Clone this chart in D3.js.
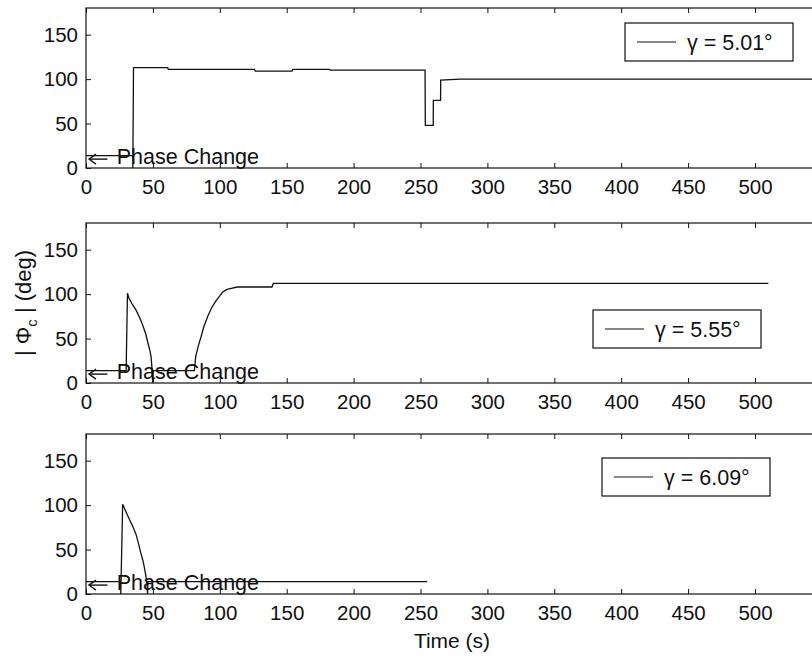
<!DOCTYPE html>
<html><head><meta charset="utf-8">
<script src="https://cdn.jsdelivr.net/npm/d3@7"></script>
<style>
html,body{margin:0;padding:0;background:#fff;overflow:hidden;}
text{font-family:"Liberation Sans",Arial,sans-serif;fill:#111;}
</style></head>
<body>
<svg id="c" width="812" height="658"></svg>
<script>
// ---- data (time in s, |Phi_c| in deg) ----
const xTicks = [0,50,100,150,200,250,300,350,400,450,500];
const yTicks = [0,50,100,150];
const legendLabels = ["γ = 5.01°","γ = 5.55°","γ = 6.09°"];
const annotationText = "Phase Change";

const seriesA = [[0,14],[35,14],[35,0],[35.5,113],[61,113],[61.5,111],[126,111],[126.5,109],[154,109],[154.5,111],[182,111],[182.5,110],
  [253.4,110],[253.6,48],[259.5,48],[259.6,76],[265,76],[265.1,99],[280,100],[560,100]];
const seriesB = [[0,14],[30,14],[31,101],[32,96],[34,90],[37.4,82],[40,74],[42.4,65],[44.5,56],[46,47],[47.5,38],[48.6,30],[49.4,15],[49.8,3],[50,0],[50.2,14],[81,14],
  [82,30],[84,42],[86,52],[88,63],[91,75],[94,85],[97,92],[100,98],[102,102],[105,105],[107,106],[113,108],[139,108],[140,112],[510,112]];
const seriesC = [[0,14],[26,14],[26,0],[27.4,101],[30,92],[32.4,84],[35,76],[37.4,67],[39,58],[41,46],[42.5,38],[43.6,30],[44.8,20],[45.6,11],[46,0],[46.3,14],[255,14]];

const panels = [
  {data: seriesA, label: legendLabels[0]},
  {data: seriesB, label: legendLabels[1]},
  {data: seriesC, label: legendLabels[2]}
];
// ---- layout ----
const panelTop = [8,223,434];
const panelH = 160;
const left = 86;
const x = d3.scaleLinear().domain([0,560]).range([left, left+560*1.338]);
const legendPos = [{x:625,y:23},{x:593,y:310},{x:602,y:458}];
const legW = 168, legH = 38;

const svg = d3.select("#c");
const line = d3.line();

panels.forEach((p,i)=>{
  const top = panelTop[i];
  const y = d3.scaleLinear().domain([0,180]).range([top+panelH, top]);
  const g = svg.append("g");
  const xr = x.range();
  g.append("rect").attr("x",xr[0]).attr("y",top).attr("width",xr[1]-xr[0]).attr("height",panelH)
    .attr("fill","none").attr("stroke","#111").attr("stroke-width",1.2);
  const xb = g.append("g").attr("transform",`translate(0,${top+panelH})`)
    .call(d3.axisBottom(x).tickValues(xTicks).tickSizeInner(-5).tickSizeOuter(0).tickPadding(11));
  const xt = g.append("g").attr("transform",`translate(0,${top})`)
    .call(d3.axisTop(x).tickValues(xTicks).tickSizeInner(-5).tickSizeOuter(0).tickFormat(""));
  const yl = g.append("g").attr("transform",`translate(${left},0)`)
    .call(d3.axisLeft(y).tickValues(yTicks).tickSizeInner(-5).tickSizeOuter(0).tickPadding(8));
  [xb,xt,yl].forEach(a=>{a.select(".domain").remove(); a.selectAll("line").attr("stroke","#111");
    a.selectAll("text").style("font-size","20.5px").attr("fill","#111");});
  g.append("path").datum(p.data.map(d=>[x(d[0]),y(d[1])])).attr("d",line)
    .attr("fill","none").attr("stroke","#111").attr("stroke-width",1.3);
  // annotation
  const ay = y(10);
  g.append("line").attr("x1",x(0)+3).attr("x2",x(16)).attr("y1",ay).attr("y2",ay).attr("stroke","#111").attr("stroke-width",1.4);
  g.append("path").attr("d",`M${x(0)+10},${ay-5} L${x(0)+3},${ay} L${x(0)+10},${ay+5}`).attr("fill","none").attr("stroke","#111").attr("stroke-width",1.4);
  g.append("text").attr("x",x(23)).attr("y",top+panelH-4).style("font-size","21.5px").text(annotationText);
  // legend
  const lp = legendPos[i];
  g.append("rect").attr("x",lp.x).attr("y",lp.y).attr("width",legW).attr("height",legH)
    .attr("fill","#fff").attr("stroke","#111").attr("stroke-width",1.2);
  g.append("line").attr("x1",lp.x+12).attr("x2",lp.x+51).attr("y1",lp.y+legH/2).attr("y2",lp.y+legH/2)
    .attr("stroke","#111").attr("stroke-width",1.2);
  g.append("text").attr("x",lp.x+62).attr("y",lp.y+legH/2+8).style("font-size","21.5px").text(p.label);
});

svg.append("text").attr("x",452).attr("y",648).attr("text-anchor","middle").style("font-size","21px").text("Time (s)");
const yt = svg.append("text").attr("transform","translate(31,303) rotate(-90)").attr("text-anchor","middle").style("font-size","22px");
yt.append("tspan").text("| Φ");
yt.append("tspan").attr("dy",6).style("font-size","15px").text("c");
yt.append("tspan").attr("dy",-6).text(" |  (deg)");
</script>
</body></html>
